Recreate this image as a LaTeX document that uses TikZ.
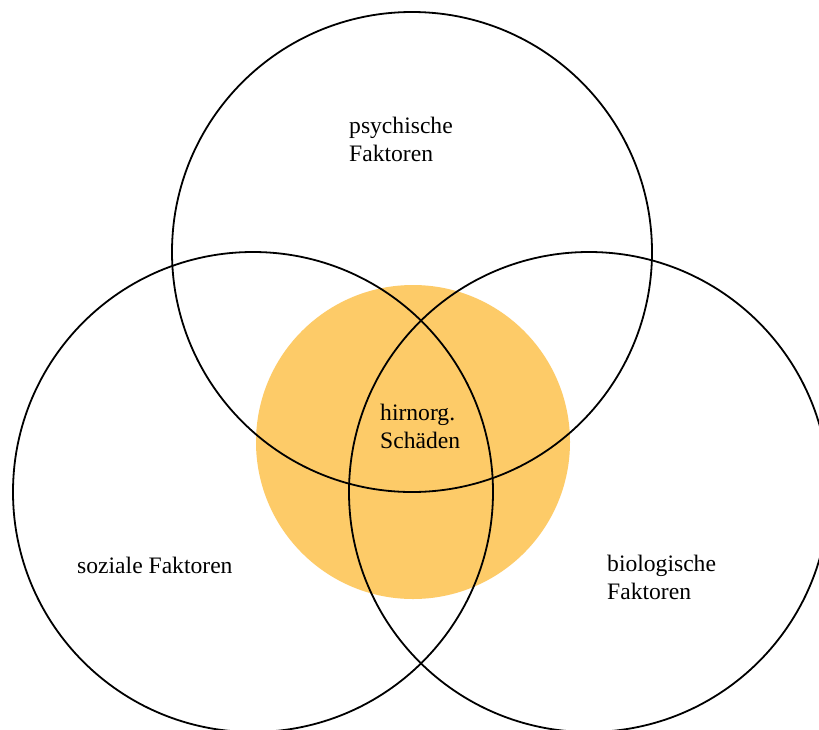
\documentclass[tikz,border=0pt]{standalone}
\usepackage{fontspec}
\setmainfont{Liberation Serif}
\definecolor{hirn}{RGB}{253,203,104}
\begin{document}
\begin{tikzpicture}[x=1pt,y=-1pt,
  ring/.style={draw=black,line width=1.8pt,circle,minimum size=480pt,inner sep=0pt},
  label/.style={anchor=base west,inner sep=0pt,align=left,font=\fontsize{23.6}{28}\selectfont}]
\useasboundingbox (0,0) rectangle (819,729);
\clip (0,0) rectangle (819,729);
\fill[white] (0,0) rectangle (819,729);
\node[circle,fill=hirn,minimum size=314pt,inner sep=0pt] (core) at (413,442) {};
\node[ring] (psy) at (412,252) {};
\node[ring] (soz) at (253,492) {};
\node[ring] (bio) at (589,492) {};
\node[label] (tpsy) at (349,161) {psychische\\Faktoren};
\node[label] (thirn) at (380,448) {hirnorg.\\Schäden};
\node[label] (tsoz) at (77,573) {soziale Faktoren};
\node[label] (tbio) at (607,599) {biologische\\Faktoren};
\end{tikzpicture}
\end{document}
